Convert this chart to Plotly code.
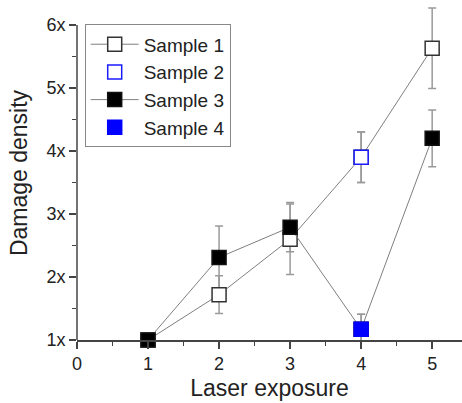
import plotly.graph_objects as go

x_vals = [1, 2, 3, 4, 5]
s1_y = [1.0, 1.72, 2.60, 3.90, 5.63]
s1_err = [0.0, 0.30, 0.56, 0.40, 0.64]
s3_y = [1.0, 2.31, 2.79, 1.17, 4.20]
s3_err = [0.0, 0.50, 0.39, 0.24, 0.45]
s2_x = [4]
s2_y = [3.90]
s2_err = [0.40]
s4_x = [4]
s4_y = [1.17]
s4_err = [0.24]

y_ticks = [1, 2, 3, 4, 5, 6]
y_ticktext = ["1x", "2x", "3x", "4x", "5x", "6x"]
x_ticks = [0, 1, 2, 3, 4, 5]

ERR_COL = "#9a9a9a"
LINE_COL = "#7f7f7f"
FONT = "Liberation Sans, Arial, sans-serif"

fig = go.Figure()

def err_trace(x, y, e):
    return go.Scatter(
        x=x, y=y, mode="markers",
        marker=dict(size=1, color="rgba(0,0,0,0)"),
        error_y=dict(type="data", array=e, visible=True, color=ERR_COL,
                     thickness=1.5, width=4),
        showlegend=False, hoverinfo="skip", cliponaxis=False,
    )

fig.add_trace(err_trace(x_vals, s1_y, s1_err))
fig.add_trace(err_trace(x_vals, s3_y, s3_err))
fig.add_trace(err_trace(s2_x, s2_y, s2_err))
fig.add_trace(err_trace(s4_x, s4_y, s4_err))

fig.add_trace(go.Scatter(
    x=x_vals, y=s1_y, mode="lines+markers", name="Sample 1",
    line=dict(color=LINE_COL, width=1),
    marker=dict(symbol="square", size=14, color="white",
                line=dict(color="#333333", width=1.5)),
    legendrank=1, cliponaxis=False,
))
fig.add_trace(go.Scatter(
    x=x_vals, y=s3_y, mode="lines+markers", name="Sample 3",
    line=dict(color=LINE_COL, width=1),
    marker=dict(symbol="square", size=14, color="black",
                line=dict(color="#111111", width=1.5)),
    legendrank=3, cliponaxis=False,
))
fig.add_trace(go.Scatter(
    x=s2_x, y=s2_y, mode="markers", name="Sample 2",
    marker=dict(symbol="square", size=14, color="white",
                line=dict(color="#1a1aff", width=1.5)),
    legendrank=2, cliponaxis=False,
))
fig.add_trace(go.Scatter(
    x=s4_x, y=s4_y, mode="markers", name="Sample 4",
    marker=dict(symbol="square", size=14, color="#0000ff",
                line=dict(color="#0000ff", width=1.5)),
    legendrank=4, cliponaxis=False,
))

axis_col = "#444444"
fig.update_layout(
    width=462, height=403,
    margin=dict(l=77, r=0, t=6, b=63),
    plot_bgcolor="white", paper_bgcolor="white",
    font=dict(family=FONT, color="#222222", size=18),
    xaxis=dict(
        range=[0, 5.42], tickvals=x_ticks, showgrid=False, zeroline=False,
        showline=True, linecolor=axis_col, linewidth=1.5,
        ticks="outside", ticklen=7, tickwidth=1.5, tickcolor=axis_col,
        minor=dict(dtick=0.5, tick0=0, ticks="outside", ticklen=4,
                   tickwidth=1.2, tickcolor=axis_col),
        tickfont=dict(size=18),
        title=dict(text="Laser exposure", font=dict(size=23), standoff=7),
    ),
    yaxis=dict(
        range=[1, 6.3], tickvals=y_ticks, ticktext=y_ticktext,
        showgrid=False, zeroline=False, showline=False,
        ticks="outside", ticklen=7, tickwidth=1.5, tickcolor=axis_col,
        minor=dict(dtick=0.5, tick0=1, ticks="outside", ticklen=4,
                   tickwidth=1.2, tickcolor=axis_col),
        tickfont=dict(size=18),
        title=dict(text="Damage density", font=dict(size=23), standoff=12),
    ),
    legend=dict(
        x=0.02, y=0.945, xanchor="left", yanchor="top",
        bordercolor="#888888", borderwidth=1, bgcolor="white",
        font=dict(size=19, color="#222222"),
        tracegroupgap=0, itemwidth=48,
    ),
    shapes=[dict(type="line", xref="paper", yref="y", x0=0, x1=0, y0=1, y1=6,
                 line=dict(color=axis_col, width=1.5), layer="above")],
)

fig.write_html("out.html")
